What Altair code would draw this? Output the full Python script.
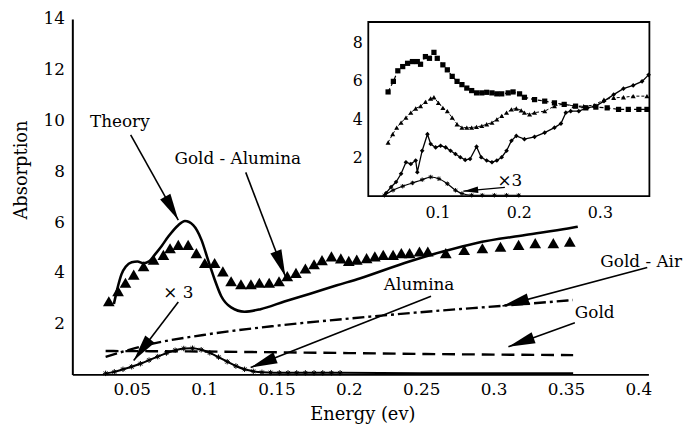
import math
import altair as alt
import pandas as pd

FONT = "DejaVu Serif"

# ---------------- main panel data ----------------
GA_X = [0.0342, 0.0406, 0.0457, 0.0514, 0.0582, 0.0651, 0.0719, 0.0765, 0.0822, 0.0890, 0.0947, 0.1005,
        0.1073, 0.1130, 0.1187, 0.1255, 0.1324, 0.1382, 0.1450, 0.1518, 0.1575, 0.1635, 0.1700, 0.1760,
        0.1815, 0.1880, 0.1945, 0.2000, 0.2055, 0.2123, 0.2180, 0.2238, 0.2306, 0.2363, 0.2420, 0.2488,
        0.2546, 0.2670, 0.2797, 0.2923, 0.3048, 0.3173, 0.3288, 0.3413, 0.3527]
GA_Y = [2.88, 3.28, 3.61, 3.93, 4.26, 4.52, 4.71, 4.97, 5.10, 5.10, 4.78, 4.39, 4.39, 4.06, 3.67, 3.55,
        3.55, 3.61, 3.61, 3.67, 3.87, 4.00, 4.17, 4.34, 4.50, 4.65, 4.57, 4.47, 4.52, 4.58, 4.65, 4.71,
        4.71, 4.78, 4.78, 4.84, 4.84, 4.78, 4.90, 4.97, 5.03, 5.10, 5.17, 5.17, 5.23]

TH_X = [0.0377, 0.0400, 0.0430, 0.0460, 0.0500, 0.0540, 0.0580, 0.0620, 0.0660, 0.0706, 0.0753, 0.0822,
        0.0868, 0.0925, 0.0982, 0.1027, 0.1073, 0.1118, 0.1187, 0.1279, 0.1390, 0.1555, 0.1733, 0.1918,
        0.2075, 0.2418, 0.2651, 0.2877, 0.3219, 0.3514, 0.3582]
TH_Y = [2.77, 3.35, 3.95, 4.25, 4.42, 4.45, 4.38, 4.45, 4.72, 5.05, 5.43, 5.88, 6.04, 5.88, 5.30, 4.52,
        3.74, 3.09, 2.64, 2.47, 2.57, 2.87, 3.18, 3.51, 3.78, 4.45, 4.84, 5.17, 5.49, 5.75, 5.82]

AIR_X = [0.032, 0.0594, 0.105, 0.1507, 0.1964, 0.2603, 0.306, 0.3548]
AIR_Y = [0.69, 1.14, 1.60, 1.92, 2.18, 2.50, 2.70, 2.93]

GOLD_X = [0.032, 0.10, 0.15, 0.20, 0.26, 0.30, 0.355]
GOLD_Y = [0.92, 0.90, 0.87, 0.84, 0.80, 0.78, 0.76]

AL_X = [0.032, 0.038, 0.044, 0.050, 0.056, 0.062, 0.068, 0.074, 0.080, 0.086, 0.092, 0.098, 0.104, 0.110,
        0.116, 0.122, 0.128, 0.134, 0.140, 0.146, 0.152, 0.158, 0.164, 0.170, 0.176, 0.182, 0.188, 0.194]
AL_Y = [0.04, 0.10, 0.20, 0.30, 0.42, 0.56, 0.70, 0.84, 0.95, 1.02, 1.03, 0.97, 0.85, 0.68, 0.50, 0.33,
        0.20, 0.12, 0.08, 0.07, 0.06, 0.06, 0.06, 0.06, 0.06, 0.06, 0.06, 0.06]
AL_TAIL_X = [0.194, 0.25, 0.30, 0.355]
AL_TAIL_Y = [0.06, 0.05, 0.05, 0.05]

X_TICKS = [0.05, 0.1, 0.15, 0.2, 0.25, 0.3, 0.35, 0.4]
Y_TICKS = [2, 4, 6, 8, 10, 12, 14]
MX_DOM = [0.009, 0.407]
MY_DOM = [0, 14]

LABEL_TEXT = ["Theory", "Gold - Alumina", "× 3", "Alumina", "Gold  - Air", "Gold"]
LABEL_X = [0.0418, 0.1233, 0.0822, 0.2486, 0.4020, 0.3699]
LABEL_Y = [9.73, 8.27, 3.00, 3.32, 4.22, 2.21]

ARROW_X0 = [0.0493, 0.1288, 0.0822, 0.2568, 0.4062, 0.3562]
ARROW_Y0 = [9.44, 7.96, 2.85, 3.08, 4.21, 2.03]
ARROW_X1 = [0.0822, 0.1562, 0.0514, 0.1322, 0.3062, 0.3103]
ARROW_Y1 = [6.08, 3.86, 0.55, 0.27, 2.69, 1.09]

# ---------------- inset data ----------------
SQ_X = [0.039, 0.0455, 0.051, 0.057, 0.063, 0.069, 0.075, 0.079, 0.085, 0.090, 0.0955, 0.0996, 0.1065,
        0.112, 0.118, 0.124, 0.130, 0.136, 0.142, 0.148, 0.1545, 0.1605, 0.167, 0.173, 0.179, 0.187, 0.193,
        0.201, 0.207, 0.2195, 0.232, 0.244, 0.256, 0.270, 0.2826, 0.295, 0.309, 0.323, 0.335, 0.348, 0.358]
SQ_Y = [5.43, 5.98, 6.53, 6.75, 6.92, 7.01, 7.01, 6.87, 7.27, 7.18, 7.49, 7.18, 6.84, 6.58, 6.24, 5.98,
        5.81, 5.63, 5.50, 5.38, 5.38, 5.41, 5.38, 5.33, 5.33, 5.38, 5.43, 5.33, 5.15, 5.03, 4.95, 4.86,
        4.78, 4.69, 4.60, 4.64, 4.60, 4.52, 4.52, 4.52, 4.52]

TRI_X = [0.039, 0.0447, 0.0496, 0.055, 0.061, 0.067, 0.073, 0.079, 0.085, 0.0915, 0.0955, 0.101, 0.1065,
         0.112, 0.118, 0.124, 0.130, 0.136, 0.142, 0.148, 0.1545, 0.1605, 0.167, 0.173, 0.179, 0.185, 0.191,
         0.197, 0.203, 0.207, 0.2134, 0.2195, 0.232, 0.244, 0.256, 0.268, 0.280, 0.293, 0.305, 0.317, 0.329,
         0.341, 0.358]
TRI_Y = [2.80, 3.23, 3.57, 3.83, 4.09, 4.35, 4.57, 4.69, 4.91, 5.09, 5.15, 4.86, 4.60, 4.43, 4.09, 3.75,
         3.57, 3.57, 3.57, 3.61, 3.66, 3.75, 3.83, 4.00, 4.18, 4.35, 4.52, 4.57, 4.47, 4.35, 4.26, 4.35,
         4.43, 4.69, 4.81, 4.69, 4.69, 4.74, 5.03, 5.12, 5.15, 5.21, 5.21]

DIA_X = [0.0366, 0.0427, 0.0488, 0.055, 0.061, 0.067, 0.073, 0.075, 0.081, 0.0875, 0.0915, 0.0976, 0.1037,
         0.110, 0.116, 0.122, 0.128, 0.134, 0.140, 0.148, 0.1537, 0.1605, 0.167, 0.173, 0.179, 0.185, 0.191,
         0.197, 0.207, 0.2195, 0.232, 0.244, 0.252, 0.258, 0.264, 0.274, 0.2845, 0.295, 0.305, 0.317, 0.329,
         0.341, 0.352, 0.360]
DIA_Y = [0.17, 0.48, 0.74, 1.17, 1.77, 1.68, 1.86, 1.25, 2.37, 3.23, 2.72, 2.54, 2.63, 2.54, 2.37, 2.20,
         2.03, 1.89, 1.94, 2.58, 2.03, 1.86, 1.77, 1.86, 2.03, 2.37, 2.89, 3.14, 2.97, 3.09, 3.31, 3.57,
         3.78, 4.35, 4.43, 4.43, 4.60, 4.69, 4.95, 5.29, 5.60, 5.77, 5.98, 6.32]

STAR_X = [0.0345, 0.045, 0.057, 0.069, 0.081, 0.0915, 0.1016, 0.112, 0.122, 0.130, 0.142, 0.155, 0.170, 0.185, 0.200]
STAR_Y = [0.05, 0.31, 0.52, 0.69, 0.86, 1.00, 0.91, 0.65, 0.31, 0.14, 0.05, 0.05, 0.05, 0.05, 0.05]

IX_TICKS = [0.1, 0.2, 0.3]
IY_TICKS = [2, 4, 6, 8]
IX_DOM = [0.0146, 0.361]
IY_DOM = [0, 9.07]
INSET_LABEL = ["×3"]
INSET_LABEL_X = [0.189]
INSET_LABEL_Y = [0.52]
INSET_ARROW_X0 = [0.1829]
INSET_ARROW_Y0 = [0.46]
INSET_ARROW_X1 = [0.1317]
INSET_ARROW_Y1 = [0.26]

# ---------------- layout ----------------
W, H = 582, 359
IX_RANGE = [299, 583]
IY_RANGE = [179, 3]
FS = 17

HEAD = "M0,0L-0.22,1L0.22,1Z"
STAR = "M-1,0L1,0M0,-1L0,1M-0.7,-0.7L0.7,0.7M-0.7,0.7L0.7,-0.7"


def head_angle(x0, y0, x1, y1, sx, sy):
    dx = (x1 - x0) * sx
    dy = -(y1 - y0) * sy
    return math.degrees(math.atan2(dx, -dy)) % 360


SX = W / (MX_DOM[1] - MX_DOM[0])
SY = H / (MY_DOM[1] - MY_DOM[0])
ISX = (IX_RANGE[1] - IX_RANGE[0]) / (IX_DOM[1] - IX_DOM[0])
ISY = (IY_RANGE[0] - IY_RANGE[1]) / (IY_DOM[1] - IY_DOM[0])

MX_SCALE = alt.Scale(domain=MX_DOM, nice=False, zero=False)
MY_SCALE = alt.Scale(domain=MY_DOM, nice=False, zero=False)
MX_AXIS = alt.Axis(values=X_TICKS, format="~g", grid=False, ticks=False, domainColor="black",
                   domainWidth=2, labelFont=FONT, labelFontSize=FS, labelColor="black", labelPadding=7,
                   titleFont=FONT, titleFontSize=18, titleFontWeight="normal", titleColor="black",
                   titleX=293, titleY=41, titleBaseline="middle", titleAlign="center")
MY_AXIS = alt.Axis(values=Y_TICKS, format="d", grid=False, ticks=False, domainColor="black",
                   domainWidth=2, labelFont=FONT, labelFontSize=FS, labelColor="black", labelPadding=8,
                   titleFont=FONT, titleFontSize=18, titleFontWeight="normal", titleColor="black",
                   titleX=-51, titleY=152, titleAngle=270, titleBaseline="middle", titleAlign="center")


def mx(field):
    return alt.X(field + ":Q", scale=MX_SCALE, axis=MX_AXIS, title="Energy  (ev)")


def my(field):
    return alt.Y(field + ":Q", scale=MY_SCALE, axis=MY_AXIS, title="Absorption")


IX_SCALE = alt.Scale(domain=IX_DOM, range=IX_RANGE, nice=False, zero=False)
IY_SCALE = alt.Scale(domain=IY_DOM, range=IY_RANGE, nice=False, zero=False)
IX_AXIS = alt.Axis(orient="bottom", offset=IY_RANGE[0] - H, values=IX_TICKS, format="~g", grid=False,
                   ticks=False, domain=False, labelFont=FONT, labelFontSize=16, labelColor="black",
                   labelPadding=8)
IY_AXIS = alt.Axis(orient="left", offset=-IX_RANGE[0], values=IY_TICKS, format="d", grid=False,
                   ticks=False, domain=False, labelFont=FONT, labelFontSize=16, labelColor="black",
                   labelPadding=6)


def ix(field):
    return alt.X(field + ":Q", scale=IX_SCALE, axis=IX_AXIS, title="")


def iy(field):
    return alt.Y(field + ":Q", scale=IY_SCALE, axis=IY_AXIS, title="")


def df(xs, ys):
    return pd.DataFrame({"x": xs, "y": ys})


# ---------------- main layers ----------------
theory = alt.Chart(df(TH_X, TH_Y)).mark_line(color="black", strokeWidth=2.6, interpolate="monotone").encode(
    x=mx("x"), y=my("y"))
air = alt.Chart(df(AIR_X, AIR_Y)).mark_line(color="black", strokeWidth=2.4, strokeDash=[12, 4, 3, 4],
                                            interpolate="monotone").encode(x=mx("x"), y=my("y"))
gold = alt.Chart(df(GOLD_X, GOLD_Y)).mark_line(color="black", strokeWidth=2.4, strokeDash=[13, 7],
                                               interpolate="monotone").encode(x=mx("x"), y=my("y"))
alum_line = alt.Chart(df(AL_X + AL_TAIL_X[1:], AL_Y + AL_TAIL_Y[1:])).mark_line(
    color="black", strokeWidth=2, interpolate="monotone").encode(x=mx("x"), y=my("y"))
alum_pts = alt.Chart(df(AL_X, AL_Y)).mark_point(shape=STAR, filled=False, color="black", size=30,
                                                strokeWidth=1, opacity=1).encode(x=mx("x"), y=my("y"))
ga = alt.Chart(df(GA_X, GA_Y)).mark_point(shape="triangle-up", filled=True, color="black", size=140,
                                          opacity=1).encode(x=mx("x"), y=my("y"))

labels = alt.Chart(pd.DataFrame({"x": LABEL_X, "y": LABEL_Y, "t": LABEL_TEXT})).mark_text(
    font=FONT, fontSize=FS, color="black", align="center", baseline="alphabetic").encode(
    x=mx("x"), y=my("y"), text="t:N")

arr = pd.DataFrame({"x": ARROW_X0, "y": ARROW_Y0, "x2": ARROW_X1, "y2": ARROW_Y1})
rules = alt.Chart(arr).mark_rule(color="black", strokeWidth=1.6).encode(
    x=mx("x"), y=my("y"), x2="x2:Q", y2="y2:Q")
heads_df = pd.DataFrame({
    "x": ARROW_X1, "y": ARROW_Y1,
    "angle": [head_angle(a, b, c, d, SX, SY) for a, b, c, d in zip(ARROW_X0, ARROW_Y0, ARROW_X1, ARROW_Y1)],
})
heads = alt.Chart(heads_df).mark_point(shape=HEAD, filled=True, color="black", opacity=1, size=4 * 27 * 27,
                                       strokeWidth=0).encode(
    x=mx("x"), y=my("y"), angle=alt.Angle("angle:Q", scale=None))

main = alt.layer(gold, air, alum_line, alum_pts, theory, ga, rules, heads, labels)

# ---------------- inset layers ----------------
frame = alt.Chart(pd.DataFrame({"x": [IX_DOM[0]], "x2": [IX_DOM[1]], "y": [IY_DOM[0]], "y2": [IY_DOM[1]]})
                  ).mark_rect(fillOpacity=0, stroke="black", strokeWidth=1.8).encode(
    x=ix("x"), x2="x2:Q", y=iy("y"), y2="y2:Q")

sq_line = alt.Chart(df(SQ_X, SQ_Y)).mark_line(color="black", strokeWidth=1.2, strokeDash=[4, 3]).encode(
    x=ix("x"), y=iy("y"))
sq_pts = alt.Chart(df(SQ_X, SQ_Y)).mark_point(shape="square", filled=True, color="black", size=28,
                                              opacity=1).encode(x=ix("x"), y=iy("y"))
tri_line = alt.Chart(df(TRI_X, TRI_Y)).mark_line(color="black", strokeWidth=1, strokeDash=[3, 2]).encode(
    x=ix("x"), y=iy("y"))
tri_pts = alt.Chart(df(TRI_X, TRI_Y)).mark_point(shape="triangle-up", filled=True, color="black", size=26,
                                                 opacity=1).encode(x=ix("x"), y=iy("y"))
dia_line = alt.Chart(df(DIA_X, DIA_Y)).mark_line(color="black", strokeWidth=1.3).encode(
    x=ix("x"), y=iy("y"))
dia_pts = alt.Chart(df(DIA_X, DIA_Y)).mark_point(shape="diamond", filled=True, color="black", size=22,
                                                 opacity=1).encode(x=ix("x"), y=iy("y"))
st_line = alt.Chart(df(STAR_X, STAR_Y)).mark_line(color="black", strokeWidth=1.2,
                                                  interpolate="monotone").encode(x=ix("x"), y=iy("y"))
st_pts = alt.Chart(df(STAR_X, STAR_Y)).mark_point(shape=STAR, filled=False, color="black", size=20,
                                                  strokeWidth=1, opacity=1).encode(x=ix("x"), y=iy("y"))

i_label = alt.Chart(pd.DataFrame({"x": INSET_LABEL_X, "y": INSET_LABEL_Y, "t": INSET_LABEL})).mark_text(
    font=FONT, fontSize=FS, color="black", align="center", baseline="alphabetic").encode(
    x=ix("x"), y=iy("y"), text="t:N")
i_arr = pd.DataFrame({"x": INSET_ARROW_X0, "y": INSET_ARROW_Y0, "x2": INSET_ARROW_X1, "y2": INSET_ARROW_Y1})
i_rule = alt.Chart(i_arr).mark_rule(color="black", strokeWidth=1.3).encode(
    x=ix("x"), y=iy("y"), x2="x2:Q", y2="y2:Q")
i_head_df = pd.DataFrame({
    "x": INSET_ARROW_X1, "y": INSET_ARROW_Y1,
    "angle": [head_angle(a, b, c, d, ISX, ISY) for a, b, c, d in
              zip(INSET_ARROW_X0, INSET_ARROW_Y0, INSET_ARROW_X1, INSET_ARROW_Y1)],
})
i_head = alt.Chart(i_head_df).mark_point(shape=HEAD, filled=True, color="black", opacity=1, size=4 * 15 * 15,
                                         strokeWidth=0).encode(
    x=ix("x"), y=iy("y"), angle=alt.Angle("angle:Q", scale=None))

inset = alt.layer(frame, sq_line, sq_pts, tri_line, tri_pts, dia_line, dia_pts, st_line, st_pts,
                  i_rule, i_head, i_label)

chart = alt.layer(main, inset).resolve_scale(x="independent", y="independent").properties(
    width=W, height=H,
    autosize=alt.AutoSizeParams(type="none"),
    padding={"left": 65, "top": 9, "right": 40, "bottom": 51},
    background="white",
).configure_view(strokeWidth=0)

chart.save("out.html", embed_options={"renderer": "svg", "actions": False})
